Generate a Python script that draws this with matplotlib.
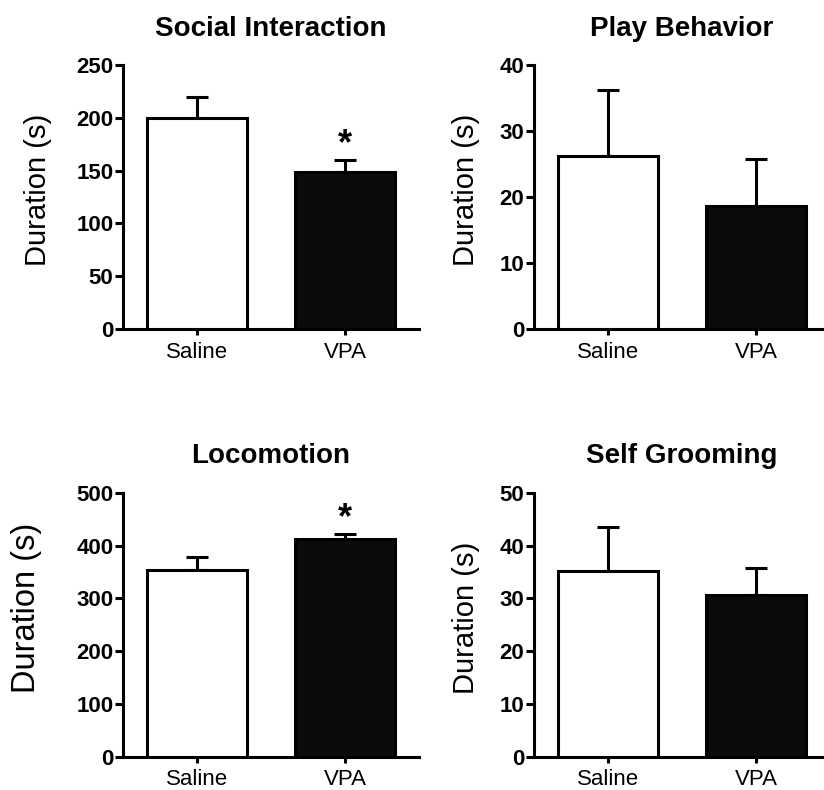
import matplotlib
matplotlib.use('Agg')
from matplotlib import pyplot as plt

plt.rcParams['font.family'] = ['Liberation Sans', 'DejaVu Sans']

groups = ['Saline', 'VPA']
titles = ['Social Interaction', 'Play Behavior', 'Locomotion', 'Self Grooming']

social_mean = [200, 149]
social_sem = [20, 11]
play_mean = [26.2, 18.6]
play_sem = [10.1, 7.2]
loco_mean = [354, 412]
loco_sem = [24, 10]
groom_mean = [35.1, 30.6]
groom_sem = [8.4, 5.1]

y_max = [250, 40, 500, 50]
y_step = [50, 10, 100, 10]
significant = [[False, True], [False, False], [False, True], [False, False]]

means = [social_mean, play_mean, loco_mean, groom_mean]
sems = [social_sem, play_sem, loco_sem, groom_sem]

fill_colors = ['white', '#0b0b0b']
lw = 2.2

fig = plt.figure(figsize=(8.24, 7.90), dpi=100)

# panel rectangles in figure fraction: left, bottom, width, height
panel_boxes = [
    (0.1493, 0.5835, 0.3592, 0.334),
    (0.6481, 0.5835, 0.3592, 0.334),
    (0.1493, 0.0418, 0.3592, 0.3346),
    (0.6481, 0.0418, 0.3592, 0.3346),
]
# y label placement (axes fraction) and size per panel
label_pos = [(-0.240, 0.527), (-0.182, 0.527), (-0.274, 0.564), (-0.182, 0.527)]
label_size = [21, 21, 23.5, 21]

for i in range(4):
    ax = fig.add_axes(panel_boxes[i])
    x = range(len(groups))
    ax.bar(x, means[i], width=0.67, color=fill_colors, edgecolor='black',
           linewidth=lw, zorder=3)
    for j in x:
        ax.errorbar(j, means[i][j], yerr=[[0], [sems[i][j]]], fmt='none',
                    ecolor='black', elinewidth=lw, capsize=8, capthick=lw,
                    zorder=2)
        if significant[i][j]:
            ax.annotate('*', xy=(j, means[i][j] + sems[i][j]), xytext=(0, -1.5),
                        textcoords='offset points', ha='center', va='bottom',
                        fontsize=26, fontweight='bold')

    ax.set_xlim(-0.5, 1.5)
    ax.set_ylim(0, y_max[i])
    ax.set_yticks(range(0, y_max[i] + 1, y_step[i]))
    ax.set_xticks(list(x))
    ax.set_xticklabels(groups, fontsize=16)
    for lab in ax.get_yticklabels():
        lab.set_fontsize(16)
        lab.set_fontweight('bold')

    for side in ['top', 'right']:
        ax.spines[side].set_visible(False)
    for side in ['left', 'bottom']:
        ax.spines[side].set_linewidth(lw)
    ax.tick_params(axis='y', length=5.5, width=lw, pad=1.5)
    ax.tick_params(axis='x', length=4.5, width=lw, pad=4.5)

    ax.set_title(titles[i], fontsize=20, fontweight='bold', pad=21)
    ax.set_ylabel('Duration (s)', fontsize=label_size[i])
    ax.yaxis.set_label_coords(*label_pos[i])

fig.savefig('out.png', dpi=100)
